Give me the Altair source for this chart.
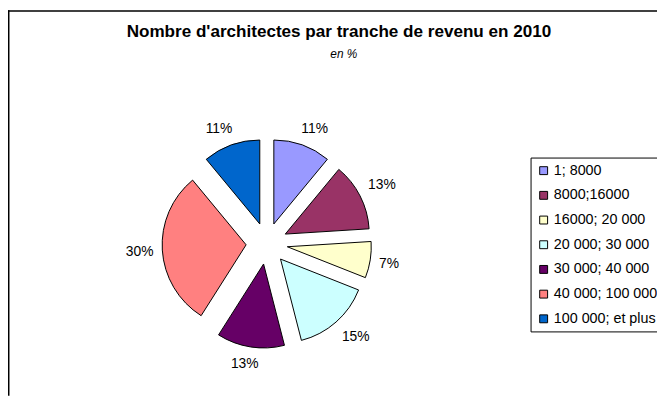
import altair as alt
import pandas as pd

# ---- data ----
categories = ["1; 8000", "8000;16000", "16000; 20 000", "20 000; 30 000",
              "30 000; 40 000", "40 000; 100 000", "100 000; et plus"]
values = [11, 13, 7, 15, 13, 30, 11]
colors = ["#9999FF", "#993366", "#FFFFCC", "#CCFFFF", "#660066", "#FF8080", "#0066CC"]
title_text = "Nombre d'architectes par tranche de revenu en 2010"
subtitle_text = "en %"

FONT = "Liberation Sans"
W, H = 657, 390
CX, CY = 262, 236      # pie centre (px)
R = 85                 # pie radius
EXPLODE = 21           # slice explosion distance
LA = 115               # label anchor radius
LFS = 14               # label font size

df = pd.DataFrame({"category": categories, "value": values, "order": list(range(len(values)))})

base = alt.Chart(df).transform_window(
    cum="sum(value)", sort=[alt.SortField("order")], frame=[None, 0]
).transform_joinaggregate(
    total="sum(value)"
).transform_calculate(
    t0="(datum.cum - datum.value) / datum.total * 2 * PI",
    t1="datum.cum / datum.total * 2 * PI",
    lab="datum.value + '%'",
).transform_calculate(
    mid="(datum.t0 + datum.t1) / 2",
    hw=f"{LFS} * (0.556 * (length(datum.lab) - 1) + 0.889) / 2",
).transform_calculate(
    px=f"{CX} + {EXPLODE} * sin(datum.mid)",
    py=f"{CY} - {EXPLODE} * cos(datum.mid)",
    lx=f"{CX} + {LA} * sin(datum.mid) + datum.hw * clamp(2 * sin(datum.mid), -1, 1)",
    ly=f"{CY} - {LA} * cos(datum.mid) - 8 * clamp(2 * cos(datum.mid), -1, 1)",
)

pie = base.mark_arc(stroke="black", strokeWidth=1, outerRadius=R).encode(
    theta=alt.Theta("t0:Q", scale=None, stack=None),
    theta2="t1:Q",
    x=alt.X("px:Q", scale=None, axis=None),
    y=alt.Y("py:Q", scale=None, axis=None),
    color=alt.Color(
        "category:N",
        scale=alt.Scale(domain=categories, range=colors),
        sort=categories,
        legend=alt.Legend(
            title=None, orient="none", legendX=529, legendY=149,
            symbolType="square", symbolSize=64, symbolStrokeColor="black",
            symbolStrokeWidth=1, labelFont=FONT, labelFontSize=14.5,
            labelColor="black", labelOffset=3, rowPadding=10, padding=6,
            strokeColor="black", fillColor="white", labelLimit=300,
        ),
    ),
)

labels = base.mark_text(font=FONT, fontSize=LFS, color="black").encode(
    x=alt.X("lx:Q", scale=None, axis=None),
    y=alt.Y("ly:Q", scale=None, axis=None),
    text="lab:N",
)

title = alt.Chart(pd.DataFrame({"t": [title_text]})).mark_text(
    font=FONT, fontSize=17.3, fontWeight="bold", color="black"
).encode(x=alt.value(335), y=alt.value(22), text="t:N")

subtitle = alt.Chart(pd.DataFrame({"t": [subtitle_text]})).mark_text(
    font=FONT, fontSize=12, fontStyle="italic", color="black"
).encode(x=alt.value(340), y=alt.value(44), text="t:N")

border_left = alt.Chart(pd.DataFrame({"a": [0]})).mark_rule(color="black", strokeWidth=1.5).encode(
    x=alt.value(0.75), y=alt.value(0), y2=alt.value(H))
border_top = alt.Chart(pd.DataFrame({"a": [0]})).mark_rule(color="black", strokeWidth=1.5).encode(
    x=alt.value(0), x2=alt.value(W), y=alt.value(0.75))

chart = alt.layer(border_left, border_top, pie, labels, title, subtitle).properties(
    width=W, height=H, autosize="none", padding=0
).configure_view(stroke=None)

chart.save("out.html", embed_options={"renderer": "svg", "actions": False})
